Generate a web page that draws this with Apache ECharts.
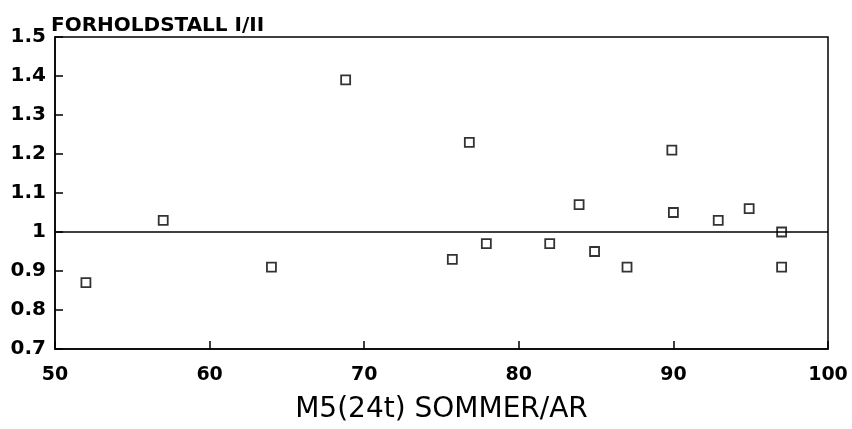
<!DOCTYPE html>
<html>
<head>
<meta charset="utf-8">
<script src="https://cdn.jsdelivr.net/npm/echarts@6/dist/echarts.min.js"></script>
<style>
  html, body { margin: 0; padding: 0; background: #fff; }
  #chart { width: 852px; height: 429px; }
</style>
</head>
<body>
<div id="chart"></div>
<script>
// M5(24t) sommer/aar og forholdstall I/II, lest av figuren
var m5Values = [52, 57, 64, 68.8, 75.7, 76.8, 77.9, 82, 83.9, 84.9, 87, 89.9, 90, 92.9, 94.9, 97, 97];
var ratioValues = [0.87, 1.03, 0.91, 1.39, 0.93, 1.23, 0.97, 0.97, 1.07, 0.95, 0.91, 1.21, 1.05, 1.03, 1.06, 1.0, 0.91];
var refLevel = 1;
var xTicks = [50, 60, 70, 80, 90, 100];
var yTicks = [0.7, 0.8, 0.9, 1, 1.1, 1.2, 1.3, 1.4, 1.5];

var points = [];
for (var i = 0; i < m5Values.length; i++) {
    points.push([m5Values[i], ratioValues[i]]);
}

var myChart = echarts.init(document.getElementById('chart'));
var font = 'DejaVu Sans, Liberation Sans, sans-serif';

var option = {
    backgroundColor: '#fff',
    animation: false,
    title: {
        text: 'FORHOLDSTALL I/II',
        left: 46,
        top: 11,
        textStyle: { fontFamily: font, fontSize: 20, fontWeight: 'bold', color: '#000' }
    },
    grid: {
        left: 55,
        right: 24,
        top: 37,
        bottom: 78,
        show: true,
        borderColor: '#000',
        borderWidth: 1.5
    },
    xAxis: {
        type: 'value',
        min: xTicks[0],
        max: xTicks[xTicks.length - 1],
        interval: 10,
        name: 'M5(24t) SOMMER/AR',
        nameLocation: 'middle',
        nameGap: 47,
        nameTextStyle: { fontFamily: font, fontSize: 28, color: '#000' },
        axisLine: { lineStyle: { color: '#000', width: 1.5 } },
        axisTick: { inside: true, length: 8, lineStyle: { color: '#000', width: 1.5 } },
        axisLabel: { fontFamily: font, fontSize: 19, fontWeight: 'bold', color: '#000', margin: 17 },
        splitLine: { show: false }
    },
    yAxis: {
        type: 'value',
        min: yTicks[0],
        max: yTicks[yTicks.length - 1],
        interval: 0.1,
        axisLine: { lineStyle: { color: '#000', width: 1.5 } },
        axisTick: { inside: true, length: 8, lineStyle: { color: '#000', width: 1.5 } },
        axisLabel: {
            fontFamily: font, fontSize: 20, fontWeight: 'bold', color: '#000', margin: 9,
            formatter: function (v) { return String(Math.round(v * 10) / 10); }
        },
        splitLine: { show: false }
    },
    series: [{
        type: 'scatter',
        data: points,
        symbol: 'rect',
        symbolSize: 9,
        itemStyle: { color: '#fff', borderColor: '#000', borderWidth: 1.8 },
        markLine: {
            silent: true,
            symbol: 'none',
            label: { show: false },
            lineStyle: { color: '#000', width: 1.6, type: 'solid' },
            data: [{ yAxis: refLevel }]
        }
    }]
};

myChart.setOption(option);
</script>
</body>
</html>
